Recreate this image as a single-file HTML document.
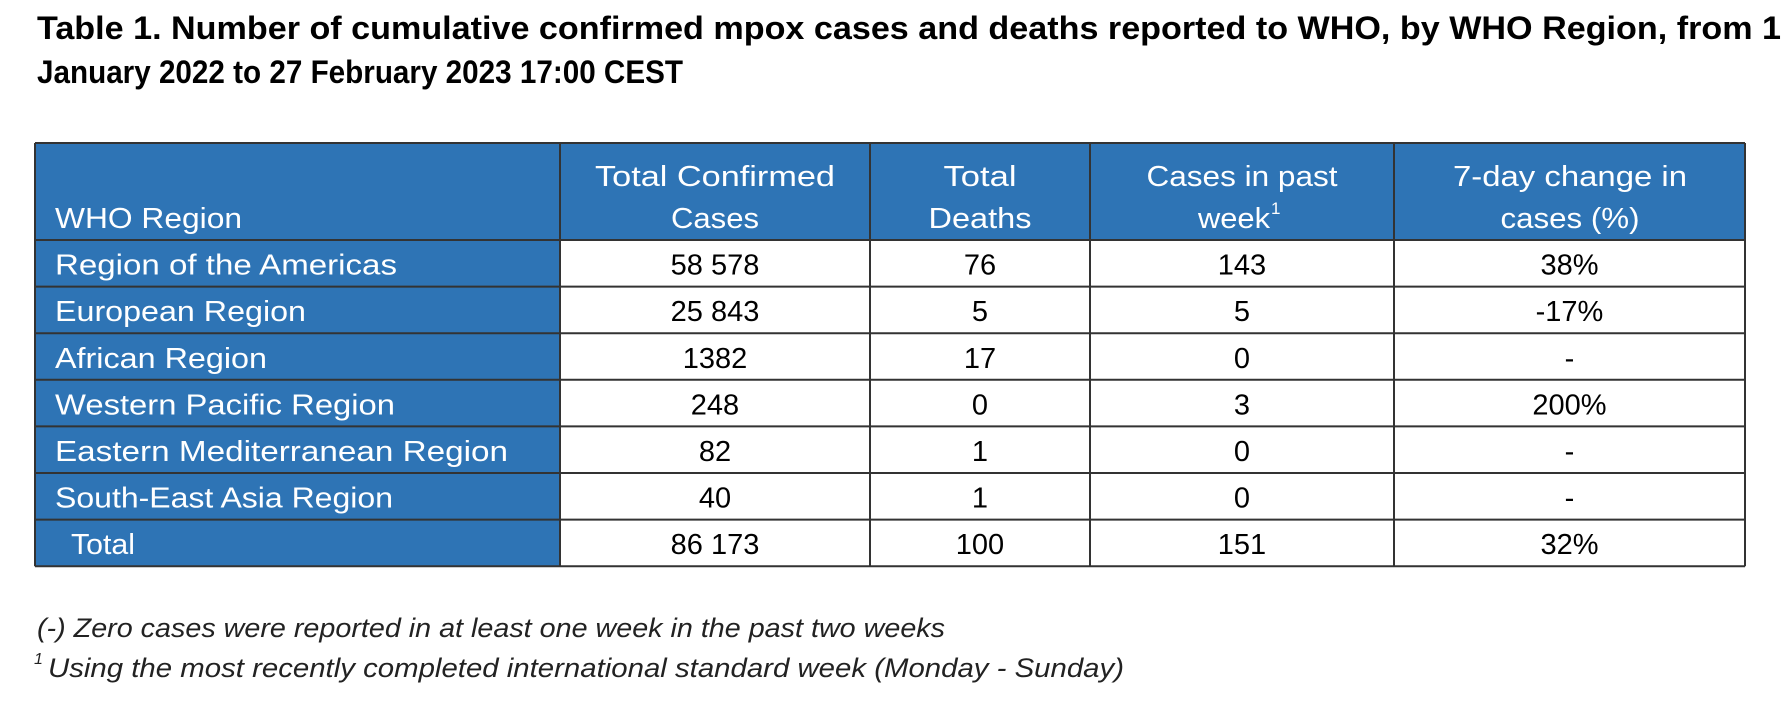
<!DOCTYPE html>
<html><head><meta charset="utf-8">
<style>
html,body{margin:0;padding:0;background:#fff;}
svg{display:block;}
text{font-family:"Liberation Sans",sans-serif;}
</style></head>
<body>
<svg width="1790" height="708" viewBox="0 0 1790 708">
  <g font-weight="bold" font-size="32" fill="#000">
    <text x="37" y="39" textLength="1744" lengthAdjust="spacingAndGlyphs">Table 1. Number of cumulative confirmed mpox cases and deaths reported to WHO, by WHO Region, from 1</text>
    <text x="37" y="83" textLength="646" lengthAdjust="spacingAndGlyphs">January 2022 to 27 February 2023 17:00 CEST</text>
  </g>
  <g id="tbl"></g>
  <g font-style="italic" font-size="27" fill="#222">
    <text x="37" y="637" textLength="908" lengthAdjust="spacingAndGlyphs">(-) Zero cases were reported in at least one week in the past two weeks</text>
    <text x="34" y="664" font-size="16">1</text>
    <text x="48" y="677" textLength="1076" lengthAdjust="spacingAndGlyphs">Using the most recently completed international standard week (Monday - Sunday)</text>
  </g>
</svg>
<script>
const regions = ["Region of the Americas","European Region","African Region","Western Pacific Region","Eastern Mediterranean Region","South-East Asia Region","Total"];
const regionWidths = [342,251,212,340,453,338,64];
const totalCases = ["58 578","25 843","1382","248","82","40","86 173"];
const totalDeaths = ["76","5","17","0","1","1","100"];
const pastWeek = ["143","5","0","3","0","0","151"];
const change = ["38%","-17%","-","200%","-","-","32%"];

const NS="http://www.w3.org/2000/svg";
const g=document.getElementById('tbl');
const colX=[35,560,870,1090,1394,1745];
const tableTop=143, headBot=240, rowH=46.6;
const blue="#2E74B5";
const FS=29;
function mk(tag,attrs){const e=document.createElementNS(NS,tag);for(const k in attrs)e.setAttribute(k,attrs[k]);g.appendChild(e);return e;}
let hb=mk('rect',{x:colX[0],y:tableTop,width:colX[5]-colX[0],height:headBot-tableTop,fill:blue});


let cb=mk('rect',{x:colX[0],y:headBot,width:colX[1]-colX[0],height:rowH*regions.length,fill:blue});


const heads=[["","WHO Region",55,0,187],["Total Confirmed","Cases",715,240,88],["Total","Deaths",980,73,103],["Cases in past","week",1242,191,72],["7-day change in","cases (%)",1570,234,139]];
heads.forEach((h,i)=>{
  if(i===0){
    let t=mk('text',{x:55,y:228,'font-size':FS,fill:'#fff',textLength:187,lengthAdjust:'spacingAndGlyphs'});t.textContent="WHO Region";
    
    
    return;
  }
  let t1=mk('text',{x:h[2],y:186,'font-size':FS,fill:'#fff','text-anchor':'middle',textLength:h[3],lengthAdjust:'spacingAndGlyphs'});t1.textContent=h[0];
  
  
  let x2=i===3?h[2]-8:h[2];
  let t2=mk('text',{x:x2,y:228,'font-size':FS,fill:'#fff','text-anchor':'middle',textLength:h[4],lengthAdjust:'spacingAndGlyphs'});t2.textContent=h[1];
  
  
  if(i===3){let s=mk('text',{x:x2+h[4]/2+1,y:214,'font-size':17,fill:'#fff'});s.textContent='1';
    
    }
});
regions.forEach((r,i)=>{
  const yb=headBot+rowH*(i+1)-12;
  let t=mk('text',{x:i===6?71:55,y:yb,'font-size':FS,fill:'#fff',textLength:regionWidths[i],lengthAdjust:'spacingAndGlyphs'});
  t.textContent=r;
  
  
  [totalCases,totalDeaths,pastWeek,change].forEach((arr,j)=>{
    const cx=(colX[j+1]+colX[j+2])/2;
    let c=mk('text',{x:cx,y:yb,'font-size':FS,fill:'#000','text-anchor':'middle'});
    c.textContent=arr[i];
    
    
  });
});
const bottomY=headBot+rowH*regions.length;
colX.forEach(x=>{let l=mk('line',{x1:x,y1:tableTop,x2:x,y2:bottomY,stroke:'#333','stroke-width':2});
  
  });
const ys=[tableTop,headBot];for(let i=1;i<=regions.length;i++)ys.push(headBot+rowH*i);
ys.forEach(y=>{let l=mk('line',{x1:colX[0],y1:y,x2:colX[5],y2:y,stroke:'#333','stroke-width':2});
  
  });
</script>
</body></html>
